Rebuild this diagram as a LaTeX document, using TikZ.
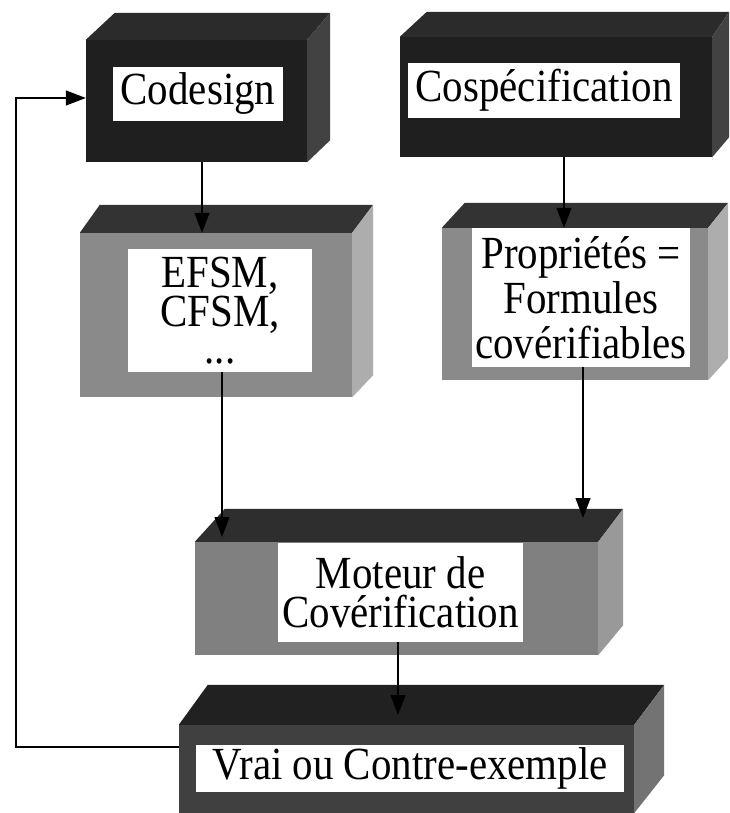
\documentclass[tikz,border=0pt]{standalone}
\usepackage{fontspec}
\setmainfont[FakeStretch=0.89]{Liberation Serif}
\usetikzlibrary{arrows.meta,calc}
\definecolor{blkfront}{gray}{0.12}
\definecolor{blktop}{gray}{0.17}
\definecolor{blkright}{gray}{0.26}
\definecolor{midfront}{gray}{0.54}
\definecolor{midtop}{gray}{0.20}
\definecolor{midright}{gray}{0.68}
\definecolor{motfront}{gray}{0.50}
\definecolor{mottop}{gray}{0.18}
\definecolor{motright}{gray}{0.60}
\definecolor{vrfront}{gray}{0.25}
\definecolor{vrtop}{gray}{0.13}
\definecolor{vrright}{gray}{0.45}
\tikzset{
  frontface/.style={rectangle, inner sep=0pt, draw=none},
  lab/.style={rectangle, fill=white, inner sep=0pt, align=center,
              font=\fontsize{46}{40}\selectfont},
  arr/.style={line width=1.2pt, -{Triangle[length=20pt,width=15pt]}},
}
\begin{document}
\begin{tikzpicture}[x=1pt,y=-1pt]
\useasboundingbox (0,0) rectangle (729,813);
\fill[white] (0,0) rectangle (729,813);

% ---- Box A : Codesign
\node[frontface, fill=blkfront, minimum width=221pt, minimum height=122pt] (Af) at (196.5,101) {};
\fill[blktop] (Af.north west) -- ++(29,-27) -- ($(Af.north east)+(23,-27)$) -- (Af.north east) -- cycle;
\fill[blkright] (Af.north east) -- ++(23,-27) -- ($(Af.south east)+(23,-22)$) -- (Af.south east) -- cycle;
\node[lab, minimum width=170pt, minimum height=54pt] (Al) at (198,94) {Codesign};

% ---- Box B : Cospecification
\node[frontface, fill=blkfront, minimum width=312pt, minimum height=120pt] (Bf) at (556,97) {};
\fill[blktop] (Bf.north west) -- ++(27,-25) -- ($(Bf.north east)+(17,-25)$) -- (Bf.north east) -- cycle;
\fill[blkright] (Bf.north east) -- ++(17,-25) -- ($(Bf.south east)+(17,-20)$) -- (Bf.south east) -- cycle;
\node[lab, minimum width=272pt, minimum height=55pt] (Bl) at (544,90.5) {Cospécification};

% ---- Box C : EFSM
\node[frontface, fill=midfront, minimum width=272pt, minimum height=164pt] (Cf) at (216,315) {};
\fill[midtop] (Cf.north west) -- ++(20,-28) -- ($(Cf.north east)+(21,-28)$) -- (Cf.north east) -- cycle;
\fill[midright] (Cf.north east) -- ++(21,-28) -- ($(Cf.south east)+(21,-22)$) -- (Cf.south east) -- cycle;
\node[lab, minimum width=184pt, minimum height=123pt, font=\fontsize{46}{37}\selectfont] (Cl) at (220,310.5) {EFSM,\\CFSM,\\...};

% ---- Box D : Proprietes
\node[frontface, fill=midfront, minimum width=266pt, minimum height=152pt] (Df) at (575,304) {};
\fill[midtop] (Df.north west) -- ++(23,-25) -- ($(Df.north east)+(20,-25)$) -- (Df.north east) -- cycle;
\fill[midright] (Df.north east) -- ++(20,-25) -- ($(Df.south east)+(20,-22)$) -- (Df.south east) -- cycle;
\node[lab, minimum width=218pt, minimum height=139pt, font=\fontsize{46}{45}\selectfont] (Dl) at (581,297.5) {Propriétés =\\Formules\\covérifiables};

% ---- Box E : Moteur
\node[frontface, fill=motfront, minimum width=403pt, minimum height=113pt] (Ef) at (396.5,598.5) {};
\fill[mottop] (Ef.north west) -- ++(30,-33) -- ($(Ef.north east)+(25,-33)$) -- (Ef.north east) -- cycle;
\fill[motright] (Ef.north east) -- ++(25,-33) -- ($(Ef.south east)+(25,-30)$) -- (Ef.south east) -- cycle;
\node[lab, minimum width=245pt, minimum height=99pt, font=\fontsize{46}{39}\selectfont] (El) at (400.5,592.5) {Moteur de\\Covérification};

% ---- Box F : Vrai ou Contre-exemple
\node[frontface, fill=vrfront, minimum width=455pt, minimum height=88pt] (Ff) at (406.5,769) {};
\fill[vrtop] (Ff.north west) -- ++(29,-40) -- ($(Ff.north east)+(30,-40)$) -- (Ff.north east) -- cycle;
\fill[vrright] (Ff.north east) -- ++(30,-40) -- ($(Ff.south east)+(30,-38)$) -- (Ff.south east) -- cycle;
\node[lab, minimum width=428pt, minimum height=47pt] (Fl) at (410,768.5) {Vrai ou Contre-exemple};

% ---- connectors
\coordinate (xAC) at (202,0);
\coordinate (xBD) at (564,0);
\coordinate (xCE) at (222,0);
\coordinate (xDE) at (583,0);
\coordinate (xEF) at (398,0);
\coordinate (tipCE) at (0,537);
\coordinate (tipDE) at (0,518);
\coordinate (tipEF) at (0,715);
\coordinate (lb) at (16,747);
\coordinate (lt) at (16,98);

\draw[arr] (Af.south -| xAC) -- (Cf.north -| xAC);
\draw[arr] (Bf.south -| xBD) -- (Df.north -| xBD);
\draw[arr] (Cl.south -| xCE) -- (tipCE -| xCE);
\draw[arr] (Dl.south -| xDE) -- (tipDE -| xDE);
\draw[arr] (El.south -| xEF) -- (tipEF -| xEF);
\draw[arr] (lb -| Ff.west) -- (lb) -- (lt) -- (lt -| Af.west);
\end{tikzpicture}
\end{document}
